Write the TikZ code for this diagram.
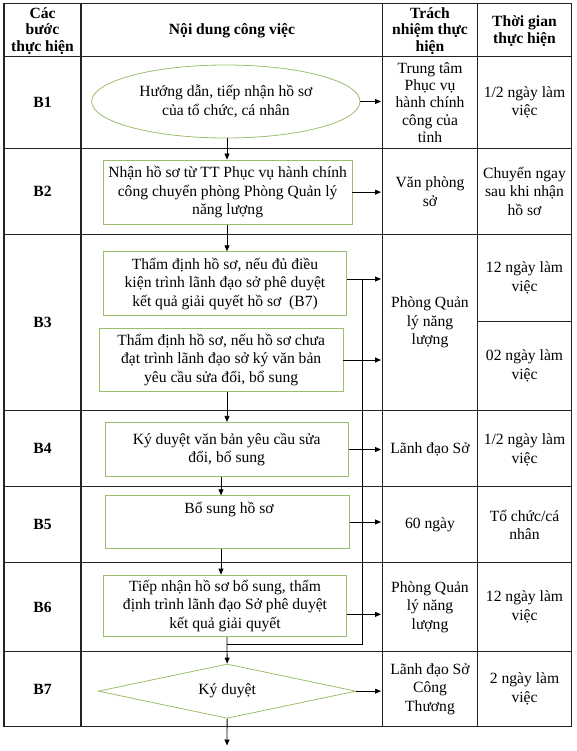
\documentclass[tikz,border=0pt]{standalone}
\usepackage{fontspec}
\setmainfont{Liberation Serif}
\usetikzlibrary{shapes.geometric,arrows.meta}
\definecolor{boxgreen}{RGB}{155,190,110}
\definecolor{gridcol}{RGB}{35,35,35}
\newcommand\mybody{\fontsize{15.6}{18.6}\selectfont}
\newcommand\myhead{\fontsize{15.6}{16.6}\selectfont\bfseries}
\begin{document}
\begin{tikzpicture}[x=1pt,y=-1pt,
  tline/.style={draw=gridcol,line width=1.1pt},
  gbox/.style={draw=boxgreen,line width=0.8pt,rectangle,inner sep=0pt,align=center,font=\mybody},
  arr/.style={draw=black,line width=0.8pt,-{Triangle[length=6pt,width=5pt]}},
  plain/.style={draw=black,line width=0.8pt},
  cell/.style={align=center,inner sep=0pt,font=\mybody},
  head/.style={align=center,inner sep=0pt,font=\myhead},
  stepl/.style={inner sep=0pt,font=\fontsize{15.6}{18}\selectfont\bfseries}]
\useasboundingbox (0,0) rectangle (576,751);
% table grid
\draw[tline] (4,3.3) rectangle (571.7,726.7);
\foreach \yy in {56.7,148.3,234.5,410.7,486.7,562.3,651.7}
  \draw[tline] (4,\yy) -- (571.7,\yy);
\foreach \xx in {81,382.7,477.3}
  \draw[tline] (\xx,3.3) -- (\xx,726.7);
\draw[tline] (477.3,321.7) -- (571.7,321.7);
% header
\node[head] (h1) at (42.5,31) {Các\\bước\\thực hiện};
\node[head] (h2) at (232,31) {Nội dung công việc};
\node[head] (h3) at (430,31) {Trách\\nhiệm thực\\hiện};
\node[head] (h4) at (524.5,31) {Thời gian\\thực hiện};
% step labels
\node[stepl] (s1) at (42.5,102.5) {B1};
\node[stepl] (s2) at (42.5,191.4) {B2};
\node[stepl] (s3) at (42.5,322.6) {B3};
\node[stepl] (s4) at (42.5,448.7) {B4};
\node[stepl] (s5) at (42.5,524.5) {B5};
\node[stepl] (s6) at (42.5,607) {B6};
\node[stepl] (s7) at (42.5,689.2) {B7};
% responsibility column
\node[cell,font=\fontsize{15.6}{17.4}\selectfont] (r1) at (430,102.5) {Trung tâm\\Phục vụ\\hành chính\\công của\\tỉnh};
\node[cell] (r2) at (430,191.4) {Văn phòng\\sở};
\node[cell] (r3) at (430,322.6) {Phòng Quản\\lý năng\\lượng};
\node[cell] (r4) at (430,449) {Lãnh đạo Sở};
\node[cell] (r5) at (430,525) {60 ngày};
\node[cell] (r6) at (430,607) {Phòng Quản\\lý năng\\lượng};
\node[cell] (r7) at (430,689) {Lãnh đạo Sở\\Công\\Thương};
% time column
\node[cell] (t1) at (524.5,102.5) {1/2 ngày làm\\việc};
\node[cell] (t2) at (524.5,191.4) {Chuyển ngay\\sau khi nhận\\hồ sơ};
\node[cell] (t3a) at (524.5,278) {12 ngày làm\\việc};
\node[cell] (t3b) at (524.5,366) {02 ngày làm\\việc};
\node[cell] (t4) at (524.5,450) {1/2 ngày làm\\việc};
\node[cell] (t5) at (524.5,525) {Tổ chức/cá\\nhân};
\node[cell] (t6) at (524.5,607) {12 ngày làm\\việc};
\node[cell] (t7) at (524.5,689) {2 ngày làm\\việc};
% flow shapes
\node[ellipse,draw=boxgreen,line width=0.8pt,inner sep=0pt,minimum width=268.3pt,minimum height=73pt,align=center,font=\mybody] (e1) at (225.85,101.5) {Hướng dẫn, tiếp nhận hồ sơ\\của tổ chức, cá nhân};
\node[gbox,minimum width=248.7pt,minimum height=64.3pt] (b2) at (227.65,192.15) {Nhận hồ sơ từ TT Phục vụ hành chính\\công chuyển phòng Phòng Quản lý\\năng lượng};
\node[gbox,minimum width=243.4pt,minimum height=64pt] (b3a) at (225,283.7) {Thẩm định hồ sơ, nếu đủ điều\\kiện trình lãnh đạo sở phê duyệt\\kết quả giải quyết hồ sơ \ (B7)};
\node[gbox,minimum width=243.7pt,minimum height=63.4pt] (b3b) at (221.15,360) {Thẩm định hồ sơ, nếu hồ sơ chưa\\đạt trình lãnh đạo sở ký văn bản\\yêu cầu sửa đổi, bổ sung};
\node[gbox,minimum width=243.3pt,minimum height=54.4pt] (b4) at (226.65,449.5) {Ký duyệt văn bản yêu cầu sửa\\đổi, bổ sung};
\node[gbox,minimum width=244.3pt,minimum height=52.6pt] (b5) at (227.15,522) {};
\node[cell] (b5t) at (229,510) {Bổ sung hồ sơ};
\node[gbox,minimum width=243.4pt,minimum height=61.7pt] (b6) at (225,605.85) {Tiếp nhận hồ sơ bổ sung, thẩm\\định trình lãnh đạo Sở phê duyệt\\kết quả giải quyết};
\node[diamond,draw=boxgreen,line width=0.8pt,inner sep=0pt,aspect=4.7,minimum width=257.7pt,minimum height=54.3pt,font=\mybody] (d7) at (227.15,691.15) {Ký duyệt};
% helper coordinates
\coordinate (m) at (227,0);
\coordinate (m2) at (221,0);
\coordinate (c2) at (381,0);
\coordinate (j3) at (362.7,279);
\coordinate (ret) at (227,644);
\coordinate (fin) at (227,745.5);
% vertical flow arrows
\draw[arr] (e1.south -| m) -- (b2.north -| m);
\draw[arr] (b2.south -| m) -- (b3a.north -| m);
\draw[arr] (b3b.south -| m) -- (b4.north -| m);
\draw[arr] (b4.south -| m2) -- (b5.north -| m2);
\draw[arr] (b5.south -| m2) -- (b6.north -| m2);
\draw[arr] (b6.south -| m) -- (d7.north);
\draw[arr] (d7.south) -- (fin);
% right arrows to responsibility column
\draw[arr] (e1.east) -- (e1.east -| c2);
\draw[arr] (b2.east) -- (b2.east -| c2);
\draw[arr] (b3a.east |- j3) -- (j3 -| c2);
\draw[arr] (b3b.east) -- (b3b.east -| c2);
\draw[arr] (b4.east) -- (b4.east -| c2);
\draw[arr] (b5.east) -- (b5.east -| c2);
\draw[arr] ([yshift=-8.5pt]b6.east) -- ([yshift=-8.5pt]b6.east -| c2);
\draw[arr] (d7.east) -- (d7.east -| c2);
% return line
\draw[plain] (j3) -- (j3 |- ret) -- (ret);
\end{tikzpicture}
\end{document}
